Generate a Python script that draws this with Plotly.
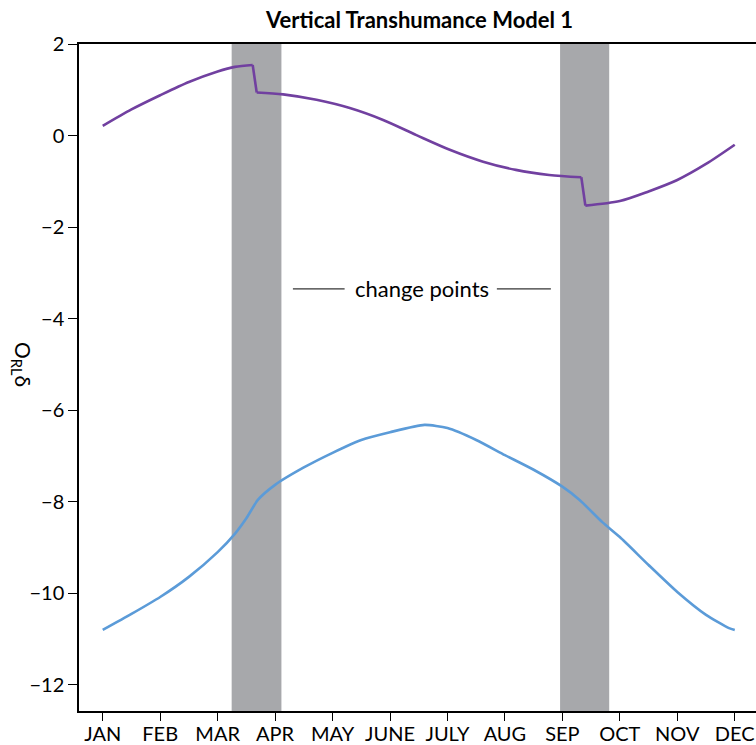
import plotly.graph_objects as go

months = ["JAN", "FEB", "MAR", "APR", "MAY", "JUNE", "JULY", "AUG", "SEP", "OCT", "NOV", "DEC"]
month_pos = list(range(12))

# purple series (month index, value)
purple_x = [0, 0.5, 1.0, 1.5, 2.0, 2.3, 2.61, 2.68, 3.14, 3.72, 4.30, 4.88, 5.46, 6.04, 6.62, 7.19, 7.77, 8.33, 8.40, 9.0, 9.5, 10.0, 10.5, 11.0]
purple_y = [0.21, 0.57, 0.88, 1.17, 1.40, 1.50, 1.54, 0.94, 0.90, 0.78, 0.60, 0.34, 0.01, -0.31, -0.57, -0.75, -0.86, -0.91, -1.53, -1.43, -1.22, -0.97, -0.62, -0.20]

# blue series
blue_x = [0, 0.5, 1.0, 1.5, 2.0, 2.3, 2.5, 2.7, 3.0, 3.5, 4.0, 4.5, 5.0, 5.6, 6.0, 6.5, 7.0, 7.5, 8.0, 8.3, 8.7, 9.0, 9.5, 10.0, 10.5, 10.9, 11.0]
blue_y = [-10.8, -10.45, -10.08, -9.64, -9.1, -8.7, -8.36, -7.96, -7.63, -7.25, -6.93, -6.65, -6.48, -6.32, -6.39, -6.65, -6.98, -7.3, -7.67, -7.96, -8.45, -8.77, -9.38, -9.97, -10.47, -10.76, -10.8]

# change point bands (month index)
bands = [(2.244, 3.11), (7.96, 8.815)]

yticks = [-12, -10, -8, -6, -4, -2, 0, 2]
ytick_text = [("\u2212" + str(-v)) if v < 0 else str(v) for v in yticks]

FONT = "Lato"
PURPLE = "#7140A0"
BLUE = "#5B9BD8"

fig = go.Figure()

for x0, x1 in bands:
    fig.add_vrect(x0=x0, x1=x1, fillcolor="#A7A8AB", opacity=1, line_width=0, layer="below")

# purple: smooth segments joined by vertical-ish jumps
breaks = [i for i in range(1, len(purple_y)) if abs(purple_y[i] - purple_y[i - 1]) > 0.45]
starts = [0] + breaks
ends = breaks + [len(purple_x)]
for s, e in zip(starts, ends):
    fig.add_trace(go.Scatter(x=purple_x[s:e], y=purple_y[s:e], mode="lines", line_shape="spline",
                             line=dict(color=PURPLE, width=2.6, smoothing=0.8), showlegend=False))
for b in breaks:
    fig.add_trace(go.Scatter(x=purple_x[b - 1:b + 1], y=purple_y[b - 1:b + 1], mode="lines",
                             line=dict(color=PURPLE, width=2.6), showlegend=False))

fig.add_trace(go.Scatter(x=blue_x, y=blue_y, mode="lines", line_shape="spline",
                         line=dict(color=BLUE, width=2.6, smoothing=0.6), showlegend=False))

# change points label with side lines
fig.add_annotation(x=5.555, y=-3.35, text="change points", showarrow=False,
                   font=dict(family=FONT, size=22, color="black"))
fig.add_shape(type="line", x0=3.31, x1=4.21, y0=-3.35, y1=-3.35, line=dict(color="black", width=1))
fig.add_shape(type="line", x0=6.86, x1=7.80, y0=-3.35, y1=-3.35, line=dict(color="black", width=1))

# y-axis label (rotated clockwise)
fig.add_annotation(xref="paper", yref="paper", x=-0.084, y=0.52, xanchor="center", yanchor="middle",
                   text="O<sub>RL</sub>δ", textangle=90, showarrow=False,
                   font=dict(family=FONT, size=21, color="black"))

fig.update_layout(
    width=756, height=745,
    margin=dict(l=79, r=0, t=44, b=34, autoexpand=False),
    paper_bgcolor="white", plot_bgcolor="white",
    title=dict(text="<b>Vertical Transhumance Model 1</b>", x=0.555, xanchor="center",
               y=0.973, yanchor="middle", font=dict(family=FONT, size=22, color="black")),
    font=dict(family=FONT, color="black"),
)
fig.update_xaxes(range=[-0.413, 11.37], tickvals=month_pos, ticktext=months, automargin=False,
                 showgrid=False, zeroline=False, showline=True, linecolor="black", linewidth=1.5,
                 mirror=True, ticks="outside", ticklen=8, tickcolor="black", ticklabelstandoff=-4,
                 tickfont=dict(family=FONT, size=20, color="black"))
fig.update_yaxes(range=[-12.57, 2], tickvals=yticks, ticktext=ytick_text, automargin=False,
                 showgrid=False, zeroline=False, showline=True, linecolor="black", linewidth=1.5,
                 ticks="outside", ticklen=9, tickcolor="black",
                 tickfont=dict(family=FONT, size=20, color="black"))

fig.write_html("out.html", config={"displayModeBar": False},
               post_script="document.body.style.margin='0';document.body.style.overflow='hidden';")
